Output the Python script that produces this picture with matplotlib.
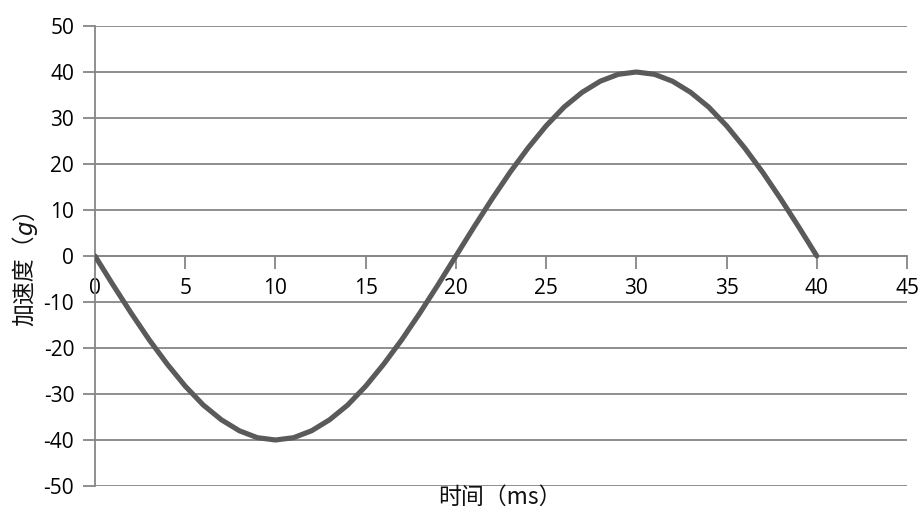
import matplotlib
matplotlib.use("Agg")
import matplotlib.pyplot as plt

plt.rcParams['font.family'] = ['Open Sans', 'Noto Sans CJK SC', 'DejaVu Sans']
plt.rcParams['axes.unicode_minus'] = False

# time (ms) and acceleration (g)
time_ms = list(range(0, 41))
accel_g = [0.0, -6.3, -12.4, -18.2, -23.5, -28.3, -32.4, -35.6, -38.0, -39.5,
           -40.0, -39.5, -38.0, -35.6, -32.4, -28.3, -23.5, -18.2, -12.4, -6.3,
           0.0, 6.3, 12.4, 18.2, 23.5, 28.3, 32.4, 35.6, 38.0, 39.5,
           40.0, 39.5, 38.0, 35.6, 32.4, 28.3, 23.5, 18.2, 12.4, 6.3, 0.0]

x_ticks = [0, 5, 10, 15, 20, 25, 30, 35, 40, 45]
y_ticks = [-50, -40, -30, -20, -10, 0, 10, 20, 30, 40, 50]

grey = '#868686'
cjk = ['Noto Sans CJK SC', 'DejaVu Sans']
label_size = 16.5

fig = plt.figure(figsize=(9.19, 5.14), dpi=100)
ax = fig.add_axes([0.1034, 0.0545, 0.8836, 0.8949])

ax.plot(time_ms, accel_g, color='#5a5a5a', linewidth=3.7,
        solid_capstyle='round', solid_joinstyle='round', zorder=3)

ax.set_xlim(0, 45)
ax.set_ylim(-50, 50)
ax.set_xticks(x_ticks)
ax.set_yticks(y_ticks)

ax.grid(axis='y', color=grey, linewidth=1.3)
ax.set_axisbelow(True)

for side in ['top', 'right']:
    ax.spines[side].set_visible(False)
ax.spines['bottom'].set_position(('data', 0))
for side in ['bottom', 'left']:
    ax.spines[side].set_color(grey)
    ax.spines[side].set_linewidth(1.3)

ax.tick_params(axis='x', direction='out', length=9, width=1.3, color=grey,
               labelsize=15, pad=7)
ax.tick_params(axis='y', direction='out', length=9, width=1.3, color=grey,
               labelsize=15, pad=6)

ax.text(0.498, 0.0, '时间（ms）', transform=ax.transAxes, ha='center', va='top',
        fontsize=label_size, family=cjk, color='#111111')

# y label: 加速度（g） with an italic g, built from rotated pieces
renderer = fig.canvas.get_renderer()
parts = [('加速度（', 'normal'), ('g', 'italic'), ('）', 'normal')]
widths = []
for s, style in parts:
    t = fig.text(0, 0, s, fontsize=label_size,
                 family=cjk if style == 'normal' else ['DejaVu Sans'], style=style)
    widths.append(t.get_window_extent(renderer).width)
    t.remove()
x_base = 32
y_cur = (514 - 262) - sum(widths) / 2
for (s, style), w in zip(parts, widths):
    fig.text(x_base / 919, y_cur / 514, s, rotation=90, rotation_mode='anchor',
             ha='left', va='baseline', fontsize=label_size, style=style, color='#111111',
             family=cjk if style == 'normal' else ['DejaVu Sans'])
    y_cur += w

fig.savefig('out.png', dpi=100)
